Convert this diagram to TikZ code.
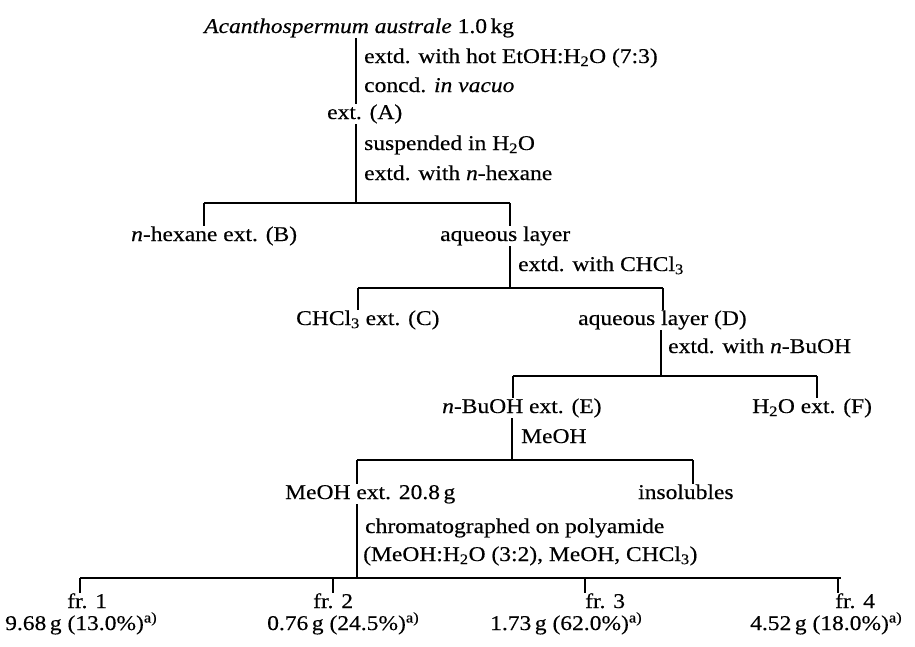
\documentclass[tikz,border=0pt]{standalone}
\usepackage{fontspec}
\setmainfont{Liberation Serif}[FakeStretch=1.12,FakeBold=0.35]
\begin{document}
\begin{tikzpicture}[x=1pt,y=-1pt,
  lbl/.style={inner sep=0pt, anchor=base west, text height=15pt, text depth=5pt, font=\fontsize{21}{25}\selectfont},
  ln/.style={line width=1.6pt},
  br/.style={line width=1.1pt}]
\useasboundingbox[fill=white] (0,0) rectangle (915,646);
% nodes
\node[lbl] (t)  at (204,33)  {\textit{Acanthospermum australe} 1.0\,kg};
\node[lbl] (l1) at (364,63)  {extd. with hot EtOH:H\textsubscript{2}O (7:3)};
\node[lbl] (l2) at (364,92)  {concd. \textit{in vacuo}};
\node[lbl] (A)  at (327,119) {ext. (A)};
\node[lbl] (l3) at (364,150) {suspended in H\textsubscript{2}O};
\node[lbl] (l4) at (364,180) {extd. with \textit{n}-hexane};
\node[lbl] (B)  at (131,241) {\textit{n}-hexane ext. (B)};
\node[lbl] (aq) at (440,241) {aqueous layer};
\node[lbl] (l5) at (518,271) {extd. with CHCl\textsubscript{3}};
\node[lbl] (C)  at (296,325) {CHCl\textsubscript{3} ext. (C)};
\node[lbl] (D)  at (578,325) {aqueous layer (D)};
\node[lbl] (l6) at (668,353) {extd. with \textit{n}-BuOH};
\node[lbl] (E)  at (442,413) {\textit{n}-BuOH ext. (E)};
\node[lbl] (F)  at (752,413) {H\textsubscript{2}O ext. (F)};
\node[lbl] (l7) at (521,443) {MeOH};
\node[lbl] (Me) at (285,499) {MeOH ext. 20.8\,g};
\node[lbl] (ins) at (638,499) {insolubles};
\node[lbl] (l8) at (365,533) {chromatographed on polyamide};
\node[lbl] (l9) at (363,561) {(MeOH:H\textsubscript{2}O (3:2), MeOH, CHCl\textsubscript{3})};
\node[lbl] (f1) at (67,608)  {fr. 1};
\node[lbl] (f2) at (313,608) {fr. 2};
\node[lbl] (f3) at (585,608) {fr. 3};
\node[lbl] (f4) at (835,608) {fr. 4};
\node[lbl] (v1) at (5,630)   {9.68\,g (13.0\%)\textsuperscript{a)}};
\node[lbl] (v2) at (267,630) {0.76\,g (24.5\%)\textsuperscript{a)}};
\node[lbl] (v3) at (490,630) {1.73\,g (62.0\%)\textsuperscript{a)}};
\node[lbl] (v4) at (750,630) {4.52\,g (18.0\%)\textsuperscript{a)}};
% junctions
\coordinate (j1) at (356,203); \coordinate (j1l) at (204,203); \coordinate (j1r) at (510,203);
\coordinate (j2) at (510,288); \coordinate (j2l) at (358,288); \coordinate (j2r) at (663,288);
\coordinate (j3) at (661,376); \coordinate (j3l) at (513,376); \coordinate (j3r) at (817,376);
\coordinate (j4) at (512,460); \coordinate (j4l) at (357,460); \coordinate (j4r) at (693,460);
\coordinate (j5) at (357,578); \coordinate (j5a) at (80,578); \coordinate (j5b) at (333,578);
\coordinate (j5c) at (585,578); \coordinate (j5d) at (838,578); \coordinate (j5e) at (841,578);
% connectors
\draw[ln] (t.south -| j1) -- (A.north -| j1);
\draw[ln] (A.south -| j1) -- (j1);
\draw[br] (j1l) -- (j1r);
\draw[ln] (j1l) -- (B.north -| j1l);
\draw[ln] (j1r) -- (aq.north -| j1r);
\draw[ln] (aq.south -| j2) -- (j2);
\draw[br] (j2l) -- (j2r);
\draw[ln] (j2l) -- (C.north -| j2l);
\draw[ln] (j2r) -- (D.north -| j2r);
\draw[ln] (D.south -| j3) -- (j3);
\draw[br] (j3l) -- (j3r);
\draw[ln] (j3l) -- (E.north -| j3l);
\draw[ln] (j3r) -- (F.north -| j3r);
\draw[ln] (E.south -| j4) -- (j4);
\draw[br] (j4l) -- (j4r);
\draw[ln] (j4l) -- (Me.north -| j4l);
\draw[ln] (j4r) -- (ins.north -| j4r);
\draw[ln] (Me.south -| j5) -- (j5);
\draw[br] (j5a) -- (j5e);
\draw[ln] (j5a) -- (f1.north -| j5a);
\draw[ln] (j5b) -- (f2.north -| j5b);
\draw[ln] (j5c) -- (f3.north -| j5c);
\draw[ln] (j5d) -- (f4.north -| j5d);
\end{tikzpicture}
\end{document}
